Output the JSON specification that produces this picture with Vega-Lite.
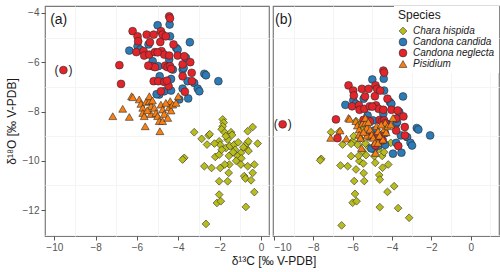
{
  "$schema": "https://vega.github.io/schema/vega-lite/v6.json",
  "padding": {"left": 4, "top": 5, "right": 3, "bottom": 4},
  "spacing": 2,
  "title": {"text": "δ¹³C [‰ V-PDB]", "orient": "bottom", "anchor": "middle", "dx": 22, "offset": 3, "fontSize": 12, "fontWeight": "normal", "color": "#1a1a1a", "font": "Liberation Sans"},
  "datasets": {
    "iso": [
      {"panel":"a","species":"Chara hispida","d13C":-3.23,"d18O":-8.84},
      {"panel":"a","species":"Chara hispida","d13C":-2.87,"d18O":-9.11},
      {"panel":"a","species":"Chara hispida","d13C":-2.61,"d18O":-9.34},
      {"panel":"a","species":"Chara hispida","d13C":-2.53,"d18O":-8.97},
      {"panel":"a","species":"Chara hispida","d13C":-2.48,"d18O":-8.92},
      {"panel":"a","species":"Chara hispida","d13C":-3.71,"d18O":-9.88},
      {"panel":"a","species":"Chara hispida","d13C":-3.79,"d18O":-9.95},
      {"panel":"a","species":"Chara hispida","d13C":-2.74,"d18O":-10.22},
      {"panel":"a","species":"Chara hispida","d13C":-2.39,"d18O":-10.29},
      {"panel":"a","species":"Chara hispida","d13C":-2.21,"d18O":-9.84},
      {"panel":"a","species":"Chara hispida","d13C":-2.02,"d18O":-9.75},
      {"panel":"a","species":"Chara hispida","d13C":-1.97,"d18O":-10.29},
      {"panel":"a","species":"Chara hispida","d13C":-2.02,"d18O":-10.83},
      {"panel":"a","species":"Chara hispida","d13C":-1.61,"d18O":-10.83},
      {"panel":"a","species":"Chara hispida","d13C":-1.56,"d18O":-10.49},
      {"panel":"a","species":"Chara hispida","d13C":-1.53,"d18O":-10.15},
      {"panel":"a","species":"Chara hispida","d13C":-2.02,"d18O":-11.37},
      {"panel":"a","species":"Chara hispida","d13C":-2.13,"d18O":-11.71},
      {"panel":"a","species":"Chara hispida","d13C":-1.94,"d18O":-11.64},
      {"panel":"a","species":"Chara hispida","d13C":-2.66,"d18O":-12.56},
      {"panel":"a","species":"Chara hispida","d13C":-1.85,"d18O":-8.32},
      {"panel":"a","species":"Chara hispida","d13C":-1.80,"d18O":-8.45},
      {"panel":"a","species":"Chara hispida","d13C":-1.85,"d18O":-8.60},
      {"panel":"a","species":"Chara hispida","d13C":-1.90,"d18O":-8.72},
      {"panel":"a","species":"Chara hispida","d13C":-1.75,"d18O":-8.85},
      {"panel":"a","species":"Chara hispida","d13C":-1.45,"d18O":-8.84},
      {"panel":"a","species":"Chara hispida","d13C":-1.40,"d18O":-8.95},
      {"panel":"a","species":"Chara hispida","d13C":-1.61,"d18O":-9.14},
      {"panel":"a","species":"Chara hispida","d13C":-2.02,"d18O":-9.21},
      {"panel":"a","species":"Chara hispida","d13C":-1.97,"d18O":-9.35},
      {"panel":"a","species":"Chara hispida","d13C":-1.69,"d18O":-9.48},
      {"panel":"a","species":"Chara hispida","d13C":-1.50,"d18O":-9.40},
      {"panel":"a","species":"Chara hispida","d13C":-1.29,"d18O":-9.34},
      {"panel":"a","species":"Chara hispida","d13C":-1.25,"d18O":-9.55},
      {"panel":"a","species":"Chara hispida","d13C":-1.10,"d18O":-9.25},
      {"panel":"a","species":"Chara hispida","d13C":-0.97,"d18O":-9.68},
      {"panel":"a","species":"Chara hispida","d13C":-1.13,"d18O":-9.81},
      {"panel":"a","species":"Chara hispida","d13C":-0.95,"d18O":-9.90},
      {"panel":"a","species":"Chara hispida","d13C":-0.73,"d18O":-9.48},
      {"panel":"a","species":"Chara hispida","d13C":-0.68,"d18O":-9.30},
      {"panel":"a","species":"Chara hispida","d13C":-0.61,"d18O":-9.21},
      {"panel":"a","species":"Chara hispida","d13C":-0.64,"d18O":-8.80},
      {"panel":"a","species":"Chara hispida","d13C":-0.40,"d18O":-8.63},
      {"panel":"a","species":"Chara hispida","d13C":-0.16,"d18O":-9.30},
      {"panel":"a","species":"Chara hispida","d13C":-0.60,"d18O":-9.60},
      {"panel":"a","species":"Chara hispida","d13C":-0.97,"d18O":-10.15},
      {"panel":"a","species":"Chara hispida","d13C":-0.64,"d18O":-10.22},
      {"panel":"a","species":"Chara hispida","d13C":-0.32,"d18O":-10.15},
      {"panel":"a","species":"Chara hispida","d13C":-0.40,"d18O":-10.49},
      {"panel":"a","species":"Chara hispida","d13C":-0.81,"d18O":-10.62},
      {"panel":"a","species":"Chara hispida","d13C":-0.75,"d18O":-10.72},
      {"panel":"a","species":"Chara hispida","d13C":-0.48,"d18O":-10.79},
      {"panel":"a","species":"Chara hispida","d13C":-0.32,"d18O":-11.27},
      {"panel":"a","species":"Chara hispida","d13C":-0.73,"d18O":-11.87},
      {"panel":"a","species":"Chara hispida","d13C":-1.70,"d18O":-9.00},
      {"panel":"a","species":"Chara hispida","d13C":-1.35,"d18O":-9.65},
      {"panel":"a","species":"Chara hispida","d13C":-1.20,"d18O":-10.00},
      {"panel":"a","species":"Chara hispida","d13C":-1.75,"d18O":-10.15},
      {"panel":"a","species":"Chara hispida","d13C":-2.25,"d18O":-9.30},
      {"panel":"a","species":"Chara hispida","d13C":-1.90,"d18O":-9.55},
      {"panel":"a","species":"Chara hispida","d13C":-1.55,"d18O":-9.80},
      {"panel":"a","species":"Chara hispida","d13C":-0.85,"d18O":-9.45},
      {"panel":"a","species":"Candona candida","d13C":-6.37,"d18O":-5.53},
      {"panel":"a","species":"Candona candida","d13C":-5.97,"d18O":-5.35},
      {"panel":"a","species":"Candona candida","d13C":-5.84,"d18O":-5.49},
      {"panel":"a","species":"Candona candida","d13C":-5.44,"d18O":-5.28},
      {"panel":"a","species":"Candona candida","d13C":-5.24,"d18O":-5.96},
      {"panel":"a","species":"Candona candida","d13C":-5.00,"d18O":-4.50},
      {"panel":"a","species":"Candona candida","d13C":-4.97,"d18O":-6.16},
      {"panel":"a","species":"Candona candida","d13C":-4.90,"d18O":-6.57},
      {"panel":"a","species":"Candona candida","d13C":-4.92,"d18O":-7.31},
      {"panel":"a","species":"Candona candida","d13C":-4.68,"d18O":-7.18},
      {"panel":"a","species":"Candona candida","d13C":-4.42,"d18O":-4.47},
      {"panel":"a","species":"Candona candida","d13C":-4.40,"d18O":-4.95},
      {"panel":"a","species":"Candona candida","d13C":-4.44,"d18O":-5.89},
      {"panel":"a","species":"Candona candida","d13C":-4.35,"d18O":-6.68},
      {"panel":"a","species":"Candona candida","d13C":-4.35,"d18O":-7.15},
      {"panel":"a","species":"Candona candida","d13C":-4.10,"d18O":-5.42},
      {"panel":"a","species":"Candona candida","d13C":-4.03,"d18O":-5.49},
      {"panel":"a","species":"Candona candida","d13C":-3.95,"d18O":-7.51},
      {"panel":"a","species":"Candona candida","d13C":-3.79,"d18O":-6.30},
      {"panel":"a","species":"Candona candida","d13C":-3.74,"d18O":-6.23},
      {"panel":"a","species":"Candona candida","d13C":-3.79,"d18O":-7.07},
      {"panel":"a","species":"Candona candida","d13C":-3.63,"d18O":-5.82},
      {"panel":"a","species":"Candona candida","d13C":-3.55,"d18O":-6.77},
      {"panel":"a","species":"Candona candida","d13C":-3.52,"d18O":-7.47},
      {"panel":"a","species":"Candona candida","d13C":-3.44,"d18O":-5.19},
      {"panel":"a","species":"Candona candida","d13C":-3.23,"d18O":-6.84},
      {"panel":"a","species":"Candona candida","d13C":-3.06,"d18O":-7.07},
      {"panel":"a","species":"Candona candida","d13C":-2.98,"d18O":-7.18},
      {"panel":"a","species":"Candona candida","d13C":-2.74,"d18O":-6.47},
      {"panel":"a","species":"Candona candida","d13C":-2.66,"d18O":-6.53},
      {"panel":"a","species":"Candona candida","d13C":-2.06,"d18O":-6.77},
      {"panel":"a","species":"Candona candida","d13C":-4.26,"d18O":-6.30},
      {"panel":"a","species":"Candona candida","d13C":-5.05,"d18O":-7.30},
      {"panel":"a","species":"Candona neglecta","d13C":-9.56,"d18O":-6.32},
      {"panel":"a","species":"Candona neglecta","d13C":-6.85,"d18O":-6.12},
      {"panel":"a","species":"Candona neglecta","d13C":-6.77,"d18O":-6.88},
      {"panel":"a","species":"Candona neglecta","d13C":-6.21,"d18O":-4.74},
      {"panel":"a","species":"Candona neglecta","d13C":-5.97,"d18O":-4.95},
      {"panel":"a","species":"Candona neglecta","d13C":-5.94,"d18O":-5.15},
      {"panel":"a","species":"Candona neglecta","d13C":-6.03,"d18O":-5.59},
      {"panel":"a","species":"Candona neglecta","d13C":-5.68,"d18O":-5.55},
      {"panel":"a","species":"Candona neglecta","d13C":-5.65,"d18O":-5.73},
      {"panel":"a","species":"Candona neglecta","d13C":-5.40,"d18O":-5.69},
      {"panel":"a","species":"Candona neglecta","d13C":-5.53,"d18O":-4.88},
      {"panel":"a","species":"Candona neglecta","d13C":-5.37,"d18O":-5.19},
      {"panel":"a","species":"Candona neglecta","d13C":-5.19,"d18O":-4.88},
      {"panel":"a","species":"Candona neglecta","d13C":-5.13,"d18O":-5.59},
      {"panel":"a","species":"Candona neglecta","d13C":-5.27,"d18O":-6.16},
      {"panel":"a","species":"Candona neglecta","d13C":-5.13,"d18O":-6.20},
      {"panel":"a","species":"Candona neglecta","d13C":-5.19,"d18O":-6.77},
      {"panel":"a","species":"Candona neglecta","d13C":-4.97,"d18O":-6.77},
      {"panel":"a","species":"Candona neglecta","d13C":-4.87,"d18O":-5.18},
      {"panel":"a","species":"Candona neglecta","d13C":-4.84,"d18O":-4.74},
      {"panel":"a","species":"Candona neglecta","d13C":-4.76,"d18O":-4.88},
      {"panel":"a","species":"Candona neglecta","d13C":-4.81,"d18O":-5.55},
      {"panel":"a","species":"Candona neglecta","d13C":-4.68,"d18O":-5.69},
      {"panel":"a","species":"Candona neglecta","d13C":-4.84,"d18O":-7.18},
      {"panel":"a","species":"Candona neglecta","d13C":-4.68,"d18O":-6.80},
      {"panel":"a","species":"Candona neglecta","d13C":-4.63,"d18O":-6.14},
      {"panel":"a","species":"Candona neglecta","d13C":-4.52,"d18O":-6.20},
      {"panel":"a","species":"Candona neglecta","d13C":-4.44,"d18O":-4.14},
      {"panel":"a","species":"Candona neglecta","d13C":-4.40,"d18O":-4.22},
      {"panel":"a","species":"Candona neglecta","d13C":-4.40,"d18O":-6.16},
      {"panel":"a","species":"Candona neglecta","d13C":-4.34,"d18O":-6.27},
      {"panel":"a","species":"Candona neglecta","d13C":-4.44,"d18O":-5.73},
      {"panel":"a","species":"Candona neglecta","d13C":-4.23,"d18O":-5.28},
      {"panel":"a","species":"Candona neglecta","d13C":-4.03,"d18O":-5.73},
      {"panel":"a","species":"Candona neglecta","d13C":-3.79,"d18O":-6.09},
      {"panel":"a","species":"Candona neglecta","d13C":-3.71,"d18O":-5.76},
      {"panel":"a","species":"Candona neglecta","d13C":-3.79,"d18O":-6.57},
      {"panel":"a","species":"Candona neglecta","d13C":-3.68,"d18O":-7.20},
      {"panel":"a","species":"Candona neglecta","d13C":-3.42,"d18O":-6.00},
      {"panel":"a","species":"Candona neglecta","d13C":-3.35,"d18O":-6.43},
      {"panel":"a","species":"Candona neglecta","d13C":-3.34,"d18O":-6.77},
      {"panel":"a","species":"Candona neglecta","d13C":-4.47,"d18O":-6.97},
      {"panel":"a","species":"Candona neglecta","d13C":-5.45,"d18O":-6.14},
      {"panel":"a","species":"Candona neglecta","d13C":-4.60,"d18O":-4.95},
      {"panel":"a","species":"Candona neglecta","d13C":-5.00,"d18O":-5.60},
      {"panel":"a","species":"Candona neglecta","d13C":-4.55,"d18O":-6.75},
      {"panel":"a","species":"Pisidium","d13C":-7.17,"d18O":-8.19},
      {"panel":"a","species":"Pisidium","d13C":-6.69,"d18O":-7.89},
      {"panel":"a","species":"Pisidium","d13C":-6.37,"d18O":-8.22},
      {"panel":"a","species":"Pisidium","d13C":-6.26,"d18O":-7.38},
      {"panel":"a","species":"Pisidium","d13C":-6.20,"d18O":-7.42},
      {"panel":"a","species":"Pisidium","d13C":-5.89,"d18O":-7.51},
      {"panel":"a","species":"Pisidium","d13C":-5.81,"d18O":-7.69},
      {"panel":"a","species":"Pisidium","d13C":-5.72,"d18O":-7.85},
      {"panel":"a","species":"Pisidium","d13C":-5.72,"d18O":-8.06},
      {"panel":"a","species":"Pisidium","d13C":-5.65,"d18O":-8.19},
      {"panel":"a","species":"Pisidium","d13C":-5.60,"d18O":-8.60},
      {"panel":"a","species":"Pisidium","d13C":-5.56,"d18O":-7.61},
      {"panel":"a","species":"Pisidium","d13C":-5.40,"d18O":-7.58},
      {"panel":"a","species":"Pisidium","d13C":-5.40,"d18O":-7.38},
      {"panel":"a","species":"Pisidium","d13C":-5.32,"d18O":-7.78},
      {"panel":"a","species":"Pisidium","d13C":-5.32,"d18O":-8.10},
      {"panel":"a","species":"Pisidium","d13C":-5.16,"d18O":-7.85},
      {"panel":"a","species":"Pisidium","d13C":-5.08,"d18O":-8.06},
      {"panel":"a","species":"Pisidium","d13C":-5.00,"d18O":-8.19},
      {"panel":"a","species":"Pisidium","d13C":-4.92,"d18O":-8.39},
      {"panel":"a","species":"Pisidium","d13C":-4.89,"d18O":-8.80},
      {"panel":"a","species":"Pisidium","d13C":-4.84,"d18O":-7.72},
      {"panel":"a","species":"Pisidium","d13C":-4.76,"d18O":-7.92},
      {"panel":"a","species":"Pisidium","d13C":-4.68,"d18O":-8.10},
      {"panel":"a","species":"Pisidium","d13C":-4.76,"d18O":-8.39},
      {"panel":"a","species":"Pisidium","d13C":-4.51,"d18O":-8.26},
      {"panel":"a","species":"Pisidium","d13C":-4.44,"d18O":-7.83},
      {"panel":"a","species":"Pisidium","d13C":-4.39,"d18O":-7.58},
      {"panel":"a","species":"Pisidium","d13C":-4.35,"d18O":-7.96},
      {"panel":"a","species":"Pisidium","d13C":-4.27,"d18O":-7.72},
      {"panel":"a","species":"Pisidium","d13C":-4.11,"d18O":-7.65},
      {"panel":"a","species":"Pisidium","d13C":-4.00,"d18O":-7.38},
      {"panel":"a","species":"Pisidium","d13C":-5.50,"d18O":-7.95},
      {"panel":"a","species":"Pisidium","d13C":-5.25,"d18O":-7.55},
      {"panel":"a","species":"Pisidium","d13C":-4.60,"d18O":-7.65},
      {"panel":"b","species":"Chara hispida","d13C":-7.60,"d18O":-9.92},
      {"panel":"b","species":"Chara hispida","d13C":-7.65,"d18O":-9.98},
      {"panel":"b","species":"Chara hispida","d13C":-7.10,"d18O":-8.84},
      {"panel":"b","species":"Chara hispida","d13C":-6.62,"d18O":-10.19},
      {"panel":"b","species":"Chara hispida","d13C":-6.51,"d18O":-9.34},
      {"panel":"b","species":"Chara hispida","d13C":-6.25,"d18O":-10.22},
      {"panel":"b","species":"Chara hispida","d13C":-6.08,"d18O":-9.81},
      {"panel":"b","species":"Chara hispida","d13C":-5.92,"d18O":-10.82},
      {"panel":"b","species":"Chara hispida","d13C":-5.88,"d18O":-11.34},
      {"panel":"b","species":"Chara hispida","d13C":-6.00,"d18O":-11.70},
      {"panel":"b","species":"Chara hispida","d13C":-5.80,"d18O":-11.64},
      {"panel":"b","species":"Chara hispida","d13C":-6.56,"d18O":-12.62},
      {"panel":"b","species":"Chara hispida","d13C":-5.83,"d18O":-10.35},
      {"panel":"b","species":"Chara hispida","d13C":-5.66,"d18O":-10.01},
      {"panel":"b","species":"Chara hispida","d13C":-5.46,"d18O":-10.11},
      {"panel":"b","species":"Chara hispida","d13C":-5.41,"d18O":-10.82},
      {"panel":"b","species":"Chara hispida","d13C":-5.44,"d18O":-10.50},
      {"panel":"b","species":"Chara hispida","d13C":-5.32,"d18O":-9.77},
      {"panel":"b","species":"Chara hispida","d13C":-5.16,"d18O":-9.47},
      {"panel":"b","species":"Chara hispida","d13C":-4.85,"d18O":-10.08},
      {"panel":"b","species":"Chara hispida","d13C":-4.65,"d18O":-10.58},
      {"panel":"b","species":"Chara hispida","d13C":-4.62,"d18O":-10.76},
      {"panel":"b","species":"Chara hispida","d13C":-4.48,"d18O":-10.28},
      {"panel":"b","species":"Chara hispida","d13C":-4.19,"d18O":-10.15},
      {"panel":"b","species":"Chara hispida","d13C":-4.23,"d18O":-11.26},
      {"panel":"b","species":"Chara hispida","d13C":-3.89,"d18O":-11.03},
      {"panel":"b","species":"Chara hispida","d13C":-4.62,"d18O":-11.88},
      {"panel":"b","species":"Chara hispida","d13C":-3.69,"d18O":-11.92},
      {"panel":"b","species":"Chara hispida","d13C":-3.13,"d18O":-12.31},
      {"panel":"b","species":"Chara hispida","d13C":-4.90,"d18O":-9.81},
      {"panel":"b","species":"Chara hispida","d13C":-4.50,"d18O":-9.80},
      {"panel":"b","species":"Chara hispida","d13C":-6.00,"d18O":-9.20},
      {"panel":"b","species":"Chara hispida","d13C":-5.75,"d18O":-9.35},
      {"panel":"b","species":"Chara hispida","d13C":-5.60,"d18O":-9.10},
      {"panel":"b","species":"Chara hispida","d13C":-5.35,"d18O":-9.30},
      {"panel":"b","species":"Chara hispida","d13C":-5.20,"d18O":-9.05},
      {"panel":"b","species":"Chara hispida","d13C":-4.06,"d18O":-9.27},
      {"panel":"b","species":"Chara hispida","d13C":-5.50,"d18O":-9.60},
      {"panel":"b","species":"Chara hispida","d13C":-5.83,"d18O":-8.39},
      {"panel":"b","species":"Chara hispida","d13C":-5.70,"d18O":-8.55},
      {"panel":"b","species":"Chara hispida","d13C":-5.55,"d18O":-8.70},
      {"panel":"b","species":"Chara hispida","d13C":-6.68,"d18O":-8.82},
      {"panel":"b","species":"Chara hispida","d13C":-6.08,"d18O":-9.31},
      {"panel":"b","species":"Chara hispida","d13C":-5.00,"d18O":-9.50},
      {"panel":"b","species":"Chara hispida","d13C":-4.70,"d18O":-9.55},
      {"panel":"b","species":"Chara hispida","d13C":-5.70,"d18O":-9.80},
      {"panel":"b","species":"Chara hispida","d13C":-4.40,"d18O":-9.65},
      {"panel":"b","species":"Chara hispida","d13C":-5.95,"d18O":-9.00},
      {"panel":"b","species":"Candona candida","d13C":-6.37,"d18O":-7.73},
      {"panel":"b","species":"Candona candida","d13C":-5.97,"d18O":-7.55},
      {"panel":"b","species":"Candona candida","d13C":-5.84,"d18O":-7.69},
      {"panel":"b","species":"Candona candida","d13C":-5.44,"d18O":-7.48},
      {"panel":"b","species":"Candona candida","d13C":-5.24,"d18O":-8.16},
      {"panel":"b","species":"Candona candida","d13C":-5.00,"d18O":-6.70},
      {"panel":"b","species":"Candona candida","d13C":-4.97,"d18O":-8.36},
      {"panel":"b","species":"Candona candida","d13C":-4.90,"d18O":-8.77},
      {"panel":"b","species":"Candona candida","d13C":-4.92,"d18O":-9.51},
      {"panel":"b","species":"Candona candida","d13C":-4.68,"d18O":-9.38},
      {"panel":"b","species":"Candona candida","d13C":-4.42,"d18O":-6.67},
      {"panel":"b","species":"Candona candida","d13C":-4.40,"d18O":-7.15},
      {"panel":"b","species":"Candona candida","d13C":-4.44,"d18O":-8.09},
      {"panel":"b","species":"Candona candida","d13C":-4.35,"d18O":-8.88},
      {"panel":"b","species":"Candona candida","d13C":-4.35,"d18O":-9.35},
      {"panel":"b","species":"Candona candida","d13C":-4.10,"d18O":-7.62},
      {"panel":"b","species":"Candona candida","d13C":-4.03,"d18O":-7.69},
      {"panel":"b","species":"Candona candida","d13C":-3.95,"d18O":-9.71},
      {"panel":"b","species":"Candona candida","d13C":-3.79,"d18O":-8.50},
      {"panel":"b","species":"Candona candida","d13C":-3.74,"d18O":-8.43},
      {"panel":"b","species":"Candona candida","d13C":-3.79,"d18O":-9.27},
      {"panel":"b","species":"Candona candida","d13C":-3.63,"d18O":-8.02},
      {"panel":"b","species":"Candona candida","d13C":-3.55,"d18O":-8.97},
      {"panel":"b","species":"Candona candida","d13C":-3.52,"d18O":-9.67},
      {"panel":"b","species":"Candona candida","d13C":-3.44,"d18O":-7.39},
      {"panel":"b","species":"Candona candida","d13C":-3.23,"d18O":-9.04},
      {"panel":"b","species":"Candona candida","d13C":-3.06,"d18O":-9.27},
      {"panel":"b","species":"Candona candida","d13C":-2.98,"d18O":-9.38},
      {"panel":"b","species":"Candona candida","d13C":-2.74,"d18O":-8.67},
      {"panel":"b","species":"Candona candida","d13C":-2.66,"d18O":-8.73},
      {"panel":"b","species":"Candona candida","d13C":-2.06,"d18O":-8.97},
      {"panel":"b","species":"Candona candida","d13C":-4.26,"d18O":-8.50},
      {"panel":"b","species":"Candona candida","d13C":-5.05,"d18O":-9.50},
      {"panel":"b","species":"Candona neglecta","d13C":-9.56,"d18O":-8.52},
      {"panel":"b","species":"Candona neglecta","d13C":-6.85,"d18O":-8.32},
      {"panel":"b","species":"Candona neglecta","d13C":-6.77,"d18O":-9.08},
      {"panel":"b","species":"Candona neglecta","d13C":-6.21,"d18O":-6.94},
      {"panel":"b","species":"Candona neglecta","d13C":-5.97,"d18O":-7.15},
      {"panel":"b","species":"Candona neglecta","d13C":-5.94,"d18O":-7.35},
      {"panel":"b","species":"Candona neglecta","d13C":-6.03,"d18O":-7.79},
      {"panel":"b","species":"Candona neglecta","d13C":-5.68,"d18O":-7.75},
      {"panel":"b","species":"Candona neglecta","d13C":-5.65,"d18O":-7.93},
      {"panel":"b","species":"Candona neglecta","d13C":-5.40,"d18O":-7.89},
      {"panel":"b","species":"Candona neglecta","d13C":-5.53,"d18O":-7.08},
      {"panel":"b","species":"Candona neglecta","d13C":-5.37,"d18O":-7.39},
      {"panel":"b","species":"Candona neglecta","d13C":-5.19,"d18O":-7.08},
      {"panel":"b","species":"Candona neglecta","d13C":-5.13,"d18O":-7.79},
      {"panel":"b","species":"Candona neglecta","d13C":-5.27,"d18O":-8.36},
      {"panel":"b","species":"Candona neglecta","d13C":-5.13,"d18O":-8.40},
      {"panel":"b","species":"Candona neglecta","d13C":-5.19,"d18O":-8.97},
      {"panel":"b","species":"Candona neglecta","d13C":-4.97,"d18O":-8.97},
      {"panel":"b","species":"Candona neglecta","d13C":-4.87,"d18O":-7.38},
      {"panel":"b","species":"Candona neglecta","d13C":-4.84,"d18O":-6.94},
      {"panel":"b","species":"Candona neglecta","d13C":-4.76,"d18O":-7.08},
      {"panel":"b","species":"Candona neglecta","d13C":-4.81,"d18O":-7.75},
      {"panel":"b","species":"Candona neglecta","d13C":-4.68,"d18O":-7.89},
      {"panel":"b","species":"Candona neglecta","d13C":-4.84,"d18O":-9.38},
      {"panel":"b","species":"Candona neglecta","d13C":-4.68,"d18O":-9.00},
      {"panel":"b","species":"Candona neglecta","d13C":-4.63,"d18O":-8.34},
      {"panel":"b","species":"Candona neglecta","d13C":-4.52,"d18O":-8.40},
      {"panel":"b","species":"Candona neglecta","d13C":-4.44,"d18O":-6.34},
      {"panel":"b","species":"Candona neglecta","d13C":-4.40,"d18O":-6.42},
      {"panel":"b","species":"Candona neglecta","d13C":-4.40,"d18O":-8.36},
      {"panel":"b","species":"Candona neglecta","d13C":-4.34,"d18O":-8.47},
      {"panel":"b","species":"Candona neglecta","d13C":-4.44,"d18O":-7.93},
      {"panel":"b","species":"Candona neglecta","d13C":-4.23,"d18O":-7.48},
      {"panel":"b","species":"Candona neglecta","d13C":-4.03,"d18O":-7.93},
      {"panel":"b","species":"Candona neglecta","d13C":-3.79,"d18O":-8.29},
      {"panel":"b","species":"Candona neglecta","d13C":-3.71,"d18O":-7.96},
      {"panel":"b","species":"Candona neglecta","d13C":-3.79,"d18O":-8.77},
      {"panel":"b","species":"Candona neglecta","d13C":-3.68,"d18O":-9.40},
      {"panel":"b","species":"Candona neglecta","d13C":-3.42,"d18O":-8.20},
      {"panel":"b","species":"Candona neglecta","d13C":-3.35,"d18O":-8.63},
      {"panel":"b","species":"Candona neglecta","d13C":-3.34,"d18O":-8.97},
      {"panel":"b","species":"Candona neglecta","d13C":-4.47,"d18O":-9.17},
      {"panel":"b","species":"Candona neglecta","d13C":-5.45,"d18O":-8.34},
      {"panel":"b","species":"Candona neglecta","d13C":-4.60,"d18O":-7.15},
      {"panel":"b","species":"Candona neglecta","d13C":-5.00,"d18O":-7.80},
      {"panel":"b","species":"Candona neglecta","d13C":-4.55,"d18O":-8.95},
      {"panel":"b","species":"Pisidium","d13C":-7.12,"d18O":-9.07},
      {"panel":"b","species":"Pisidium","d13C":-6.64,"d18O":-8.77},
      {"panel":"b","species":"Pisidium","d13C":-6.32,"d18O":-9.10},
      {"panel":"b","species":"Pisidium","d13C":-6.21,"d18O":-8.26},
      {"panel":"b","species":"Pisidium","d13C":-6.15,"d18O":-8.30},
      {"panel":"b","species":"Pisidium","d13C":-5.84,"d18O":-8.39},
      {"panel":"b","species":"Pisidium","d13C":-5.76,"d18O":-8.57},
      {"panel":"b","species":"Pisidium","d13C":-5.67,"d18O":-8.73},
      {"panel":"b","species":"Pisidium","d13C":-5.67,"d18O":-8.94},
      {"panel":"b","species":"Pisidium","d13C":-5.60,"d18O":-9.07},
      {"panel":"b","species":"Pisidium","d13C":-5.55,"d18O":-9.48},
      {"panel":"b","species":"Pisidium","d13C":-5.51,"d18O":-8.49},
      {"panel":"b","species":"Pisidium","d13C":-5.35,"d18O":-8.46},
      {"panel":"b","species":"Pisidium","d13C":-5.35,"d18O":-8.26},
      {"panel":"b","species":"Pisidium","d13C":-5.27,"d18O":-8.66},
      {"panel":"b","species":"Pisidium","d13C":-5.27,"d18O":-8.98},
      {"panel":"b","species":"Pisidium","d13C":-5.11,"d18O":-8.73},
      {"panel":"b","species":"Pisidium","d13C":-5.03,"d18O":-8.94},
      {"panel":"b","species":"Pisidium","d13C":-4.95,"d18O":-9.07},
      {"panel":"b","species":"Pisidium","d13C":-4.87,"d18O":-9.27},
      {"panel":"b","species":"Pisidium","d13C":-4.84,"d18O":-9.68},
      {"panel":"b","species":"Pisidium","d13C":-4.79,"d18O":-8.60},
      {"panel":"b","species":"Pisidium","d13C":-4.71,"d18O":-8.80},
      {"panel":"b","species":"Pisidium","d13C":-4.63,"d18O":-8.98},
      {"panel":"b","species":"Pisidium","d13C":-4.71,"d18O":-9.27},
      {"panel":"b","species":"Pisidium","d13C":-4.46,"d18O":-9.14},
      {"panel":"b","species":"Pisidium","d13C":-4.39,"d18O":-8.71},
      {"panel":"b","species":"Pisidium","d13C":-4.34,"d18O":-8.46},
      {"panel":"b","species":"Pisidium","d13C":-4.30,"d18O":-8.84},
      {"panel":"b","species":"Pisidium","d13C":-4.22,"d18O":-8.60},
      {"panel":"b","species":"Pisidium","d13C":-4.06,"d18O":-8.53},
      {"panel":"b","species":"Pisidium","d13C":-3.95,"d18O":-8.26},
      {"panel":"b","species":"Pisidium","d13C":-5.45,"d18O":-8.83},
      {"panel":"b","species":"Pisidium","d13C":-5.20,"d18O":-8.43},
      {"panel":"b","species":"Pisidium","d13C":-4.55,"d18O":-8.53}
    ],
    "outliers": [
      {"panel":"a","d13C":-9.56,"d18O":-6.32},
      {"panel":"b","d13C":-9.56,"d18O":-8.52}
    ]
  },
  "resolve": {"scale": {"x": "independent", "y": "independent"}, "axis": {"x": "independent", "y": "independent"}, "legend": {"color": "independent", "shape": "independent", "size": "independent"}},
  "hconcat": [
    {
      "width": 224,
      "height": 230,
      "resolve": {"axis": {"x": "independent", "y": "independent"}},
      "layer": [
        {
          "data": {"name": "iso"},
          "transform": [{"filter": "datum.panel === 'a'"}],
          "mark": {"type": "point", "opacity": 0},
          "encoding": {
            "x": {"field": "d13C", "type": "quantitative",
              "scale": {"domain": [-10.45, 0.39], "nice": false, "zero": false},
              "axis": {"orient": "bottom", "values": [-9,-7,-5,-3,-1], "labels": false, "ticks": false, "domain": false, "title": null, "gridColor": "#f4f4f4"}},
            "y": {"field": "d18O", "type": "quantitative",
              "scale": {"domain": [-13.05, -3.72], "nice": false, "zero": false},
              "axis": {"orient": "left", "values": [-13,-11,-9,-7,-5], "labels": false, "ticks": false, "domain": false, "title": null, "gridColor": "#f4f4f4"}}
          }
        },
        {
          "data": {"name": "iso"},
          "transform": [{"filter": "datum.panel === 'a'"}],
          "mark": {"type": "point", "filled": true, "opacity": 1, "stroke": "#2b2b2b", "strokeWidth": 0.6},
          "encoding": {
            "x": {"field": "d13C", "type": "quantitative",
              "scale": {"domain": [-10.45, 0.39], "nice": false, "zero": false},
              "axis": {"orient": "bottom", "values": [-10,-8,-6,-4,-2,0], "title": null}},
            "y": {"field": "d18O", "type": "quantitative",
              "scale": {"domain": [-13.05, -3.72], "nice": false, "zero": false},
              "axis": {"orient": "left", "values": [-12,-10,-8,-6,-4], "title": "δ¹⁸O [‰ V-PDB]"}},
            "color": {"field": "species", "type": "nominal",
              "scale": {"domain": ["Chara hispida","Candona candida","Candona neglecta","Pisidium"], "range": ["#b8bd1b","#2c7bb6","#e3242b","#f97f12"]},
              "legend": null},
            "shape": {"field": "species", "type": "nominal",
              "scale": {"domain": ["Chara hispida","Candona candida","Candona neglecta","Pisidium"], "range": ["diamond","circle","circle","triangle-up"]},
              "legend": null},
            "size": {"field": "species", "type": "nominal",
              "scale": {"domain": ["Chara hispida","Candona candida","Candona neglecta","Pisidium"], "range": [60, 62, 62, 90]},
              "legend": null}
          }
        },
        {
          "data": {"name": "outliers"},
          "transform": [{"filter": "datum.panel === 'a'"}],
          "mark": {"type": "text", "text": "(", "dx": -7, "fontSize": 12, "font": "Liberation Sans", "color": "#1a1a1a"},
          "encoding": {"x": {"field": "d13C", "type": "quantitative", "axis": null}, "y": {"field": "d18O", "type": "quantitative", "axis": null}}
        },
        {
          "data": {"name": "outliers"},
          "transform": [{"filter": "datum.panel === 'a'"}],
          "mark": {"type": "text", "text": ")", "dx": 7, "fontSize": 12, "font": "Liberation Sans", "color": "#1a1a1a"},
          "encoding": {"x": {"field": "d13C", "type": "quantitative", "axis": null}, "y": {"field": "d18O", "type": "quantitative", "axis": null}}
        },
        {
          "data": {"values": [{}]},
          "mark": {"type": "text", "text": "(a)", "align": "left", "baseline": "middle", "fontSize": 14, "font": "Liberation Sans", "color": "#1a1a1a"},
          "encoding": {"x": {"datum": -10.2, "type": "quantitative", "axis": null}, "y": {"datum": -4.3, "type": "quantitative", "axis": null}}
        }
      ]
    },
    {
      "width": 226,
      "height": 230,
      "resolve": {"axis": {"x": "independent", "y": "independent"}},
      "layer": [
        {
          "data": {"name": "iso"},
          "transform": [{"filter": "datum.panel === 'b'"}],
          "mark": {"type": "point", "opacity": 0},
          "encoding": {
            "x": {"field": "d13C", "type": "quantitative",
              "scale": {"domain": [-10.05, 1.44], "nice": false, "zero": false},
              "axis": {"orient": "bottom", "values": [-9,-7,-5,-3,-1,1], "labels": false, "ticks": false, "domain": false, "title": null, "gridColor": "#f4f4f4"}},
            "y": {"field": "d18O", "type": "quantitative",
              "scale": {"domain": [-13.05, -3.72], "nice": false, "zero": false},
              "axis": {"orient": "left", "values": [-13,-11,-9,-7,-5], "labels": false, "ticks": false, "domain": false, "title": null, "gridColor": "#f4f4f4"}}
          }
        },
        {
          "data": {"name": "iso"},
          "transform": [{"filter": "datum.panel === 'b'"}],
          "mark": {"type": "point", "filled": true, "opacity": 1, "stroke": "#2b2b2b", "strokeWidth": 0.6},
          "encoding": {
            "x": {"field": "d13C", "type": "quantitative",
              "scale": {"domain": [-10.05, 1.44], "nice": false, "zero": false},
              "axis": {"orient": "bottom", "values": [-10,-8,-6,-4,-2,0], "title": null}},
            "y": {"field": "d18O", "type": "quantitative",
              "scale": {"domain": [-13.05, -3.72], "nice": false, "zero": false},
              "axis": {"orient": "left", "values": [-12,-10,-8,-6,-4], "labels": false, "ticks": false, "title": null}},
            "color": {"field": "species", "type": "nominal",
              "scale": {"domain": ["Chara hispida","Candona candida","Candona neglecta","Pisidium"], "range": ["#b8bd1b","#2c7bb6","#e3242b","#f97f12"]},
              "legend": {"title": "Species", "orient": "top-right"}},
            "shape": {"field": "species", "type": "nominal",
              "scale": {"domain": ["Chara hispida","Candona candida","Candona neglecta","Pisidium"], "range": ["diamond","circle","circle","triangle-up"]},
              "legend": {"title": "Species", "orient": "top-right"}},
            "size": {"field": "species", "type": "nominal",
              "scale": {"domain": ["Chara hispida","Candona candida","Candona neglecta","Pisidium"], "range": [60, 62, 62, 90]},
              "legend": null}
          }
        },
        {
          "data": {"name": "outliers"},
          "transform": [{"filter": "datum.panel === 'b'"}],
          "mark": {"type": "text", "text": "(", "dx": -7, "fontSize": 12, "font": "Liberation Sans", "color": "#1a1a1a"},
          "encoding": {"x": {"field": "d13C", "type": "quantitative", "axis": null}, "y": {"field": "d18O", "type": "quantitative", "axis": null}}
        },
        {
          "data": {"name": "outliers"},
          "transform": [{"filter": "datum.panel === 'b'"}],
          "mark": {"type": "text", "text": ")", "dx": 7, "fontSize": 12, "font": "Liberation Sans", "color": "#1a1a1a"},
          "encoding": {"x": {"field": "d13C", "type": "quantitative", "axis": null}, "y": {"field": "d18O", "type": "quantitative", "axis": null}}
        },
        {
          "data": {"values": [{}]},
          "mark": {"type": "text", "text": "(b)", "align": "left", "baseline": "middle", "fontSize": 14, "font": "Liberation Sans", "color": "#1a1a1a"},
          "encoding": {"x": {"datum": -9.95, "type": "quantitative", "axis": null}, "y": {"datum": -4.3, "type": "quantitative", "axis": null}}
        }
      ]
    }
  ],
  "config": {
    "font": "Liberation Sans",
    "view": {"stroke": "#7a7a7a", "strokeWidth": 1.2},
    "axis": {
      "domain": false,
      "gridColor": "#e6e6e6",
      "tickColor": "#555555",
      "tickSize": 4,
      "labelFont": "Liberation Sans",
      "labelFontSize": 10,
      "labelColor": "#555555",
      "labelPadding": 2,
      "titleFont": "Liberation Sans",
      "titleFontSize": 12,
      "titleFontWeight": "normal",
      "titleColor": "#1a1a1a",
      "titlePadding": 4
    },
    "legend": {
      "titleFont": "Liberation Sans",
      "titleFontSize": 12,
      "titleFontWeight": "normal",
      "titleColor": "#1a1a1a",
      "labelFont": "Liberation Sans",
      "labelFontSize": 10,
      "labelFontStyle": "italic",
      "labelColor": "#1a1a1a",
      "symbolStrokeColor": "#2b2b2b",
      "symbolStrokeWidth": 0.6,
      "symbolSize": 70,
      "fillColor": "white",
      "padding": 4,
      "offset": 0,
      "rowPadding": -1,
      "titlePadding": 4,
      "labelOffset": 5
    }
  }
}
